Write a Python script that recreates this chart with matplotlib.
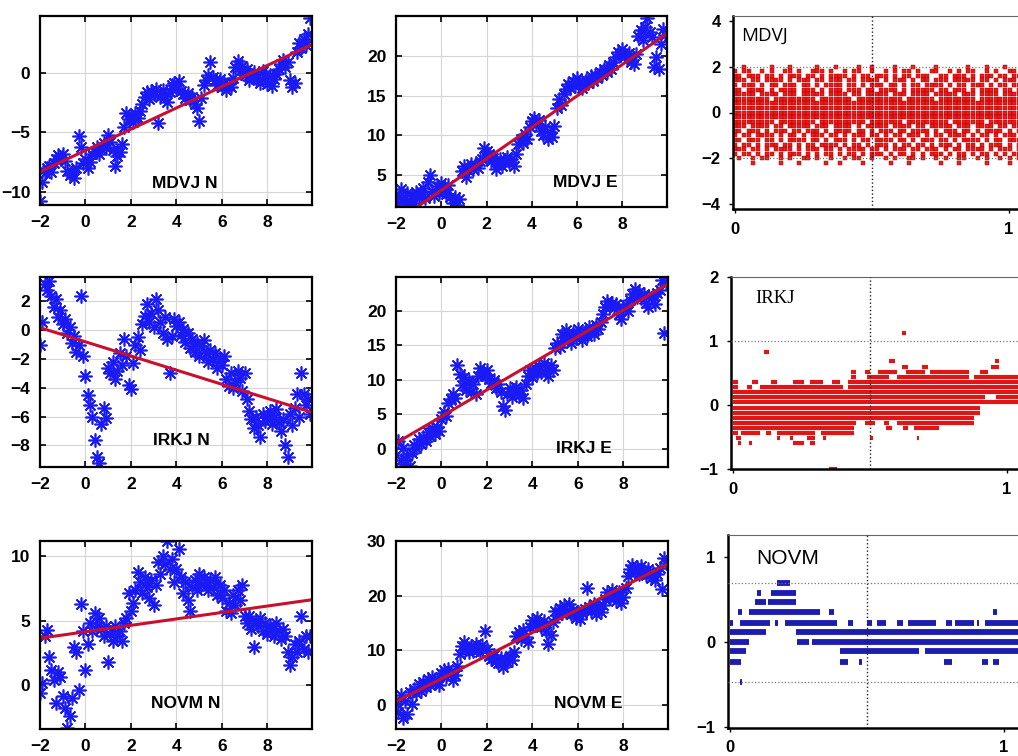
import numpy as np
import matplotlib.pyplot as plt

plt.rcParams['font.family'] = ['Liberation Sans', 'DejaVu Sans']

W, H = 1018, 756

# epochs in years, one sample every 0.1 yr
epochs = np.round(np.arange(-2.0, 9.95, 0.1), 1)
fit_x = [-2.0, 9.97]

mdvj_n = [-10.8, -9.2, -8.4, -8.0, -7.8, -8.3, -7.6, -7.2, -6.9, -7.1,
          -6.8, -7.4, -8.2, -8.6, -8.3, -8.8, -8.0, -5.3, -6.2, -7.6,
          -7.2, -8.0, -7.5, -6.8, -6.6, -6.2, -6.8, -6.4, -5.9, -6.3,
          -5.2, -5.8, -6.5, -7.8, -7.0, -6.6, -6.0, -4.5, -3.4, -3.9,
          -3.6, -4.1, -3.4, -3.8, -3.2, -2.6, -2.0, -1.6, -2.2, -1.5,
          -1.8, -1.3, -4.2, -2.0, -1.4, -1.9, -2.4, -1.6, -1.0, -0.8,
          -1.3, -0.7, -1.5, -1.8, -2.1, -1.7, -2.3, -2.0, -2.6, -2.9,
          -4.0, -2.1, -1.0, -0.6, -0.2, 0.9, -0.3, -0.6, -1.0, -0.5,
          -1.2, -0.8, -1.4, -0.9, -1.2, -0.4, 0.5, 1.0, 0.2, 0.6,
          -0.2, 0.3, -0.6, -0.2, 0.1, -0.5, -0.3, -0.8, 0.2, -0.4,
          -0.9, -0.2, -1.1, -0.5, -0.1, 0.3, 0.8, 1.1, 0.5, 0.9,
          -0.6, -1.2, -0.8, 1.8, 2.5, 2.1, 2.9, 2.4, 3.3, 4.6]
mdvj_e = [2.5, 1.5, 3.2, 2.0, 1.2, 2.8, 1.8, 2.4, 1.5, 2.9,
          2.2, 2.6, 3.4, 2.1, 4.2, 5.0, 3.0, 2.4, 3.6, 2.8,
          4.0, 3.2, 2.6, 3.8, 2.2, 1.5, 2.3, 1.2, 2.0, 5.5,
          6.2, 4.8, 5.6, 6.4, 5.8, 6.3, 5.9, 6.8, 7.0, 8.4,
          8.0, 7.6, 6.8, 7.2, 5.8, 6.5, 7.0, 6.2, 6.9, 7.3,
          6.6, 7.0, 6.2, 7.6, 8.9, 9.5, 9.0, 10.2, 9.6, 11.0,
          11.8, 12.2, 11.4, 11.9, 10.6, 10.0, 11.0, 9.6, 10.4, 9.8,
          11.2, 13.4, 14.6, 13.8, 15.2, 15.8, 16.5, 15.9, 16.8, 16.2,
          17.2, 16.6, 15.9, 16.4, 17.0, 16.6, 17.4, 16.8, 17.6, 17.2,
          18.0, 17.6, 18.4, 18.0, 18.8, 18.3, 19.2, 19.8, 20.5, 20.1,
          20.8, 20.0, 19.6, 20.4, 19.2, 19.0, 20.2, 22.5, 23.2, 22.0,
          23.6, 24.8, 23.0, 22.4, 18.6, 19.8, 18.4, 21.5, 23.4, 22.6]
irkj_n = [-1.0, 0.6, 3.2, 2.8, 3.4, 2.4, 1.6, 2.2, 0.9, 1.4,
          0.4, 0.8, -0.2, 0.2, -0.9, -0.4, -1.5, -1.0, 2.4, -1.8,
          -3.2, -4.5, -5.2, -6.0, -7.6, -8.8, -9.2, -6.5, -5.4, -6.1,
          -2.6, -3.0, -2.2, -3.4, -2.8, -1.6, -2.4, -0.6, -1.8, -3.8,
          -4.1, -2.3, -1.0, -0.5, -1.4, 0.4, 1.0, 1.8, 0.6, 1.2,
          0.2, 2.2, 1.4, 0.6, -0.2, 0.9, -0.6, -3.0, -0.4, 0.8,
          0.3, 0.6, -0.3, 0.1, -0.8, -0.2, -1.2, -0.6, -1.5, -0.9,
          -1.8, -1.1, -0.7, -1.6, -2.2, -1.4, -2.0, -1.6, -2.6, -2.0,
          -2.4, -1.8, -3.4, -3.9, -3.0, -4.0, -3.6, -2.8, -3.3, -4.2,
          -3.0, -4.8, -5.6, -6.2, -6.8, -6.0, -6.6, -7.4, -5.8, -6.3,
          -6.0, -5.6, -6.5, -6.0, -5.5, -6.4, -7.0, -6.2, -8.0, -8.8,
          -5.8, -6.6, -5.4, -4.4, -6.0, -3.0, -4.4, -5.2, -4.8, -5.8]
irkj_e = [-0.8, 1.2, -1.6, 0.2, -2.2, -1.0, -2.4, -0.6, 0.6, 0.2,
          1.4, 0.8, 1.8, 1.2, 2.4, 1.9, 3.0, 2.2, 3.2, 2.6,
          4.4, 5.4, 4.8, 6.6, 7.2, 8.0, 7.4, 12.2, 10.8, 9.2,
          10.4, 8.6, 9.8, 8.2, 9.4, 8.0, 10.6, 11.8, 11.2, 10.6,
          11.4, 10.2, 9.6, 10.0, 8.8, 9.4, 8.2, 6.2, 5.6, 8.0,
          8.8, 7.6, 8.4, 9.0, 7.8, 8.6, 7.4, 9.4, 10.6, 11.4,
          10.4, 11.8, 11.0, 12.0, 11.2, 12.4, 11.6, 10.6, 12.2, 11.4,
          14.6, 15.4, 14.8, 16.6, 15.6, 17.2, 16.2, 15.4, 16.8, 16.0,
          17.4, 16.4, 15.8, 17.0, 16.4, 17.6, 17.0, 16.6, 18.0, 17.4,
          18.4, 19.6, 20.6, 21.4, 20.8, 21.2, 20.4, 21.0, 19.6, 18.8,
          20.2, 20.8, 20.0, 21.6, 22.4, 23.2, 22.0, 22.8, 21.8, 22.4,
          21.2, 20.6, 21.8, 22.2, 21.0, 22.6, 23.0, 24.4, 16.8, 24.0]
novm_n = [-0.6, 0.2, 3.8, 4.3, 2.2, 1.2, 0.4, -1.4, 1.0, 0.6,
          -0.8, -1.8, -3.3, -2.4, -1.0, 3.0, 2.6, -0.4, 6.3, 4.2,
          1.2, 3.2, 4.8, 4.2, 5.6, 4.6, 5.2, 4.4, 3.8, 4.6,
          1.8, 4.0, 3.4, 4.6, 3.8, 4.2, 3.4, 4.8, 5.2, 7.2,
          5.8, 6.4, 7.4, 8.8, 8.0, 7.2, 8.4, 7.6, 6.8, 8.2,
          6.2, 7.8, 9.6, 8.6, 10.0, 9.4, 11.2, 9.0, 9.8, 8.0,
          9.0, 10.6, 8.4, 7.2, 8.0, 6.6, 5.8, 7.6, 8.2, 7.4,
          8.6, 7.8, 8.4, 8.0, 7.4, 8.2, 7.6, 8.4, 7.0, 7.8,
          6.8, 7.4, 5.8, 6.4, 5.6, 7.0, 6.2, 7.4, 6.6, 7.8,
          5.4, 4.8, 5.4, 4.4, 3.0, 5.0, 4.6, 5.2, 4.2, 4.8,
          4.0, 4.6, 4.4, 3.8, 4.8, 4.2, 3.6, 4.4, 3.8, 2.6,
          1.6, 2.2, 3.2, 2.6, 3.4, 5.4, 2.8, 3.8, 2.6, 3.8]
novm_e = [0.4, -1.2, 1.8, -2.4, 0.8, -1.6, 2.4, 0.2, 3.0, 2.2,
          3.8, 2.6, 4.2, 3.2, 4.8, 3.6, 5.2, 4.0, 4.6, 3.6,
          5.8, 6.4, 5.2, 6.6, 5.6, 4.6, 5.4, 7.2, 9.4, 10.8,
          11.6, 10.2, 9.6, 10.8, 9.8, 11.2, 10.2, 9.6, 11.0, 13.6,
          10.2, 9.0, 8.4, 9.2, 8.0, 7.6, 8.6, 7.0, 8.4, 7.8,
          9.0, 8.2, 9.6, 12.6, 13.4, 12.0, 13.8, 12.4, 11.6, 14.2,
          15.6, 14.6, 16.0, 15.0, 14.2, 15.4, 13.6, 11.2, 12.8, 15.2,
          17.2, 16.4, 17.8, 16.8, 18.2, 17.0, 18.4, 16.6, 17.4, 16.0,
          17.0, 15.8, 16.8, 17.6, 21.4, 18.0, 17.2, 18.4, 16.6, 17.8,
          17.0, 18.2, 19.4, 20.6, 19.6, 21.0, 20.2, 19.0, 20.6, 18.6,
          19.8, 21.4, 23.6, 24.8, 25.6, 24.4, 25.2, 24.0, 25.4, 24.6,
          23.8, 24.8, 23.2, 24.2, 22.8, 24.0, 25.0, 21.2, 26.8, 26.0]

# linear trend, value at start and end epoch
mdvj_n_fit = [-8.3, 2.4]
mdvj_e_fit = [-0.84, 22.8]
irkj_n_fit = [0.18, -5.7]
irkj_e_fit = [0.87, 23.9]
novm_n_fit = [3.65, 6.64]
novm_e_fit = [0.6, 25.8]

# MDVJ residuals, occupancy per 0.2 level ('#' = filled cell)
mdvj_levels = [2.0, 1.8, 1.6, 1.4, 1.2, 1.0, 0.8, 0.6, 0.4, 0.2, 0.0,
               -0.2, -0.4, -0.6, -0.8, -1.0, -1.2, -1.4, -1.6, -1.8, -2.0, -2.2]
mdvj_cells = [
    "..#.....#...#.....#...#....#..#....#...#....#......#...#...#.....",
    "#.##..#.#..##.#..###.#..#.##..#..#.#.##.#..##..#.#.##..#.#..##.#",
    "##.###.##.#.###.##.#.####.#.##.###.#.##.###..##.###.#.###.##.##.",
    "###.##.####.#.###.##.###.##.####.#.###.#.##.###.#####.##.#.###.#",
    "#.###.#.##.###.##.#.####.##.#.###.##.#.##.####.#.##.###.#.##.###",
    "##.####.#.####.###.#.###.###.##.####.#.#####.##.###.#.####.##.##",
    "#####.####.###.#####.####.##.#####.###.####.#####.###.####.#####",
    "########.#########.#######.##########.######.########.##########",
    "################################################################",
    "################################################################",
    "################################################################",
    "################################################################",
    "#########.########.##########.#######.#########.#######.########",
    "###.####.##.#####.###.####.#.#####.####.##.#####.###.####.##.###",
    "##.###.#.###.##.###.#.####.##.#.###.##.####.#.###.##.#.####.#.##",
    "#.##.####.#.##.#.###.##.#.###.##.#.##.###.#.##.####.#.##.#.###.#",
    "##.###.##.#.####.##.#.###.#.##.####.##.#.###.##.#.####.#.##.###.",
    "#.##.#.###.##.#.##.####.#.##.#.###.#.##.##.#.###.#.##.#.###.#.##",
    "###.##.#.####.#.###.##.#.####.##.#.###.##.###.#.##.####.#.###.##",
    "#.##.#.##.#.###.#.#.##.#.##.#.###.#.##.#.#.###.#.##.#.##.#.#.###",
    ".#..#.##..#.#..##.#..#..#.##..#..#.#..##.#..#.#..##..#.#..#.#.#.",
    "....#.....#...#.....#..#....#.....#...#......#...#.....#....#....",
]
mdvj_cell_w = 0.0167

# IRKJ / NOVM residuals: quantised levels with runs (x0, x1)
irkj_rows = [
    (1.12, [(0.615, 0.63)]),
    (0.83, [(0.115, 0.13)]),
    (0.68, [(0.57, 0.59), (0.955, 0.97)]),
    (0.60, [(0.615, 0.64), (0.69, 0.71), (0.94, 0.97)]),
    (0.52, [(0.43, 0.45), (0.48, 0.50), (0.53, 0.60), (0.63, 0.70), (0.72, 0.86), (0.90, 0.93)]),
    (0.44, [(0.43, 0.45), (0.49, 0.57), (0.60, 0.86), (0.88, 1.07)]),
    (0.36, [(0.0, 0.02), (0.07, 0.09), (0.14, 0.16), (0.22, 0.26), (0.28, 0.33), (0.36, 0.39), (0.42, 1.07)]),
    (0.28, [(0.0, 0.02), (0.05, 0.07), (0.10, 0.40), (0.42, 1.07)]),
    (0.20, [(0.0, 1.07)]),
    (0.12, [(0.0, 0.92), (0.96, 1.07)]),
    (0.04, [(0.0, 1.07)]),
    (-0.04, [(0.0, 0.90)]),
    (-0.12, [(0.0, 0.90)]),
    (-0.20, [(0.0, 0.88)]),
    (-0.28, [(0.0, 0.45), (0.48, 0.52), (0.55, 0.57), (0.60, 0.88)]),
    (-0.36, [(0.0, 0.44), (0.56, 0.58), (0.62, 0.64), (0.66, 0.75)]),
    (-0.44, [(0.0, 0.02), (0.03, 0.10), (0.12, 0.14), (0.16, 0.30), (0.32, 0.44)]),
    (-0.52, [(0.01, 0.03), (0.16, 0.17), (0.21, 0.22), (0.27, 0.30), (0.33, 0.34), (0.50, 0.51), (0.67, 0.68)]),
    (-0.60, [(0.02, 0.03), (0.06, 0.07), (0.22, 0.26), (0.28, 0.30)]),
    (-1.0, [(0.35, 0.38)]),
]
novm_rows = [
    (0.70, [(0.17, 0.22)]),
    (0.58, [(0.10, 0.115), (0.15, 0.24)]),
    (0.47, [(0.09, 0.13), (0.14, 0.24)]),
    (0.35, [(0.03, 0.044), (0.07, 0.33), (0.36, 0.38), (0.96, 0.975)]),
    (0.23, [(0.0, 0.01), (0.035, 0.145), (0.165, 0.175), (0.20, 0.39), (0.43, 0.45), (0.50, 0.52),
            (0.535, 0.57), (0.61, 0.63), (0.65, 0.75), (0.79, 0.81), (0.82, 0.89), (0.90, 0.91), (0.93, 1.07)]),
    (0.12, [(0.0, 0.13), (0.24, 1.07)]),
    (0.0, [(0.0, 0.07), (0.245, 0.29), (0.30, 1.07)]),
    (-0.11, [(0.0, 0.06), (0.40, 0.69), (0.71, 1.07)]),
    (-0.23, [(0.0, 0.04), (0.40, 0.43), (0.47, 0.48), (0.78, 0.81), (0.92, 0.94), (0.96, 0.98)]),
    (-0.47, [(0.035, 0.045)]),
]
mdvj_sigma = [2.0, -2.0]
irkj_sigma = [1.0]
novm_sigma = [0.69, -0.47]

fig = plt.figure(figsize=(W / 100, H / 100), dpi=100)


def place(l, t, r, b):
    return fig.add_axes([l / W, 1 - b / H, (r - l) / W, (b - t) / H])


def bold_ticks(ax, size=12.5):
    for lab in ax.get_xticklabels() + ax.get_yticklabels():
        lab.set_fontweight('bold')
        lab.set_fontsize(size)


def series_panel(box, y, fit, ylim, yticks, label, lx, ly):
    ax = place(*box)
    # asterisk markers like matlab '*'
    ax.plot(epochs, y, ls='none', marker=(8, 2, 0), color='#1a1af5', ms=10, mew=1.2)
    ax.plot(fit_x, fit, color='#c8102e', lw=2.2)
    ax.set_xlim(-2, 9.97)
    ax.set_ylim(*ylim)
    ax.set_xticks([-2, 0, 2, 4, 6, 8])
    ax.set_yticks(yticks)
    ax.grid(True, color='#d6d6d6', lw=0.8)
    ax.set_axisbelow(True)
    ax.tick_params(direction='in', top=True, right=True, length=4, width=1.2, pad=7)
    bold_ticks(ax)
    for s in ax.spines.values():
        s.set_linewidth(1.6)
    ax.text(lx, ly, label, transform=ax.transAxes, ha='center', va='center',
            fontsize=12.5, fontweight='bold')
    return ax


def resid_axes(box, ylim, yticks, sigma, title, tx, ty, tfont, tsize):
    ax = place(*box)
    ax.set_xlim(-0.007, 1.08)
    ax.set_ylim(*ylim)
    ax.set_xticks([0, 1])
    ax.set_yticks(yticks)
    ax.axvline(0.5, ls=':', color='#222222', lw=1.0, zorder=3)
    for s in sigma:
        ax.axhline(s, ls=':', color='#777777', lw=0.9, zorder=3)
    ax.tick_params(length=3, width=1.0, pad=6)
    bold_ticks(ax, 12)
    ax.spines['left'].set_linewidth(1.8)
    ax.spines['bottom'].set_linewidth(1.8)
    ax.spines['top'].set_linewidth(0.8)
    ax.spines['top'].set_color('#666666')
    ax.spines['right'].set_visible(False)
    ax.text(tx, ty, title, transform=ax.transAxes, ha='left', va='center',
            family=tfont, fontsize=tsize)
    return ax


series_panel((40, 16, 312, 205), mdvj_n, mdvj_n_fit, (-11.1, 4.8), [-10, -5, 0], 'MDVJ N', 0.533, 0.116)
series_panel((396, 16, 667, 207), mdvj_e, mdvj_e_fit, (1, 25), [5, 10, 15, 20], 'MDVJ E', 0.70, 0.13)
series_panel((40, 277, 312, 467), irkj_n, irkj_n_fit, (-9.5, 3.7), [-8, -6, -4, -2, 0, 2], 'IRKJ N', 0.518, 0.142)
series_panel((396, 277, 668, 467), irkj_e, irkj_e_fit, (-2.6, 24.9), [0, 5, 10, 15, 20], 'IRKJ E', 0.69, 0.095)
series_panel((40, 541, 312, 729), novm_n, novm_n_fit, (-3.4, 11.2), [0, 5, 10], 'NOVM N', 0.537, 0.133)
series_panel((396, 541, 668, 729), novm_e, novm_e_fit, (-4.4, 30), [0, 10, 20, 30], 'NOVM E', 0.706, 0.138)

# MDVJ residuals
ax = resid_axes((733, 16, 1031, 209), (-4.2, 4.2), [-4, -2, 0, 2, 4], mdvj_sigma,
                'MDVJ', 0.027, 0.90, 'Open Sans', 13.5)
xs, ys = [], []
for lev, row in zip(mdvj_levels, mdvj_cells):
    for j, ch in enumerate(row):
        if ch == '#':
            xs.append(j * mdvj_cell_w)
            ys.append(lev)
ax.scatter(xs, ys, marker='s', s=12, color='#ee1a1a', edgecolors='#a00000', linewidths=0.3, zorder=2)

# IRKJ residuals
ax = resid_axes((731, 277, 1029, 469), (-1, 2), [-1, 0, 1, 2], irkj_sigma,
                'IRKJ', 0.08, 0.89, 'Liberation Serif', 13.5)
for lev, runs in irkj_rows:
    for x0, x1 in runs:
        ax.hlines(lev, x0, x1, color='#e01515', lw=3.0, zorder=2)

# NOVM residuals
ax = resid_axes((728, 535, 1026, 728), (-1.01, 1.26), [-1, 0, 1], novm_sigma,
                'NOVM', 0.096, 0.88, 'Liberation Sans', 15)
for lev, runs in novm_rows:
    for x0, x1 in runs:
        ax.hlines(lev, x0, x1, color='#1c1cb0', lw=4.2, zorder=2)

fig.savefig('out.png', dpi=100)
